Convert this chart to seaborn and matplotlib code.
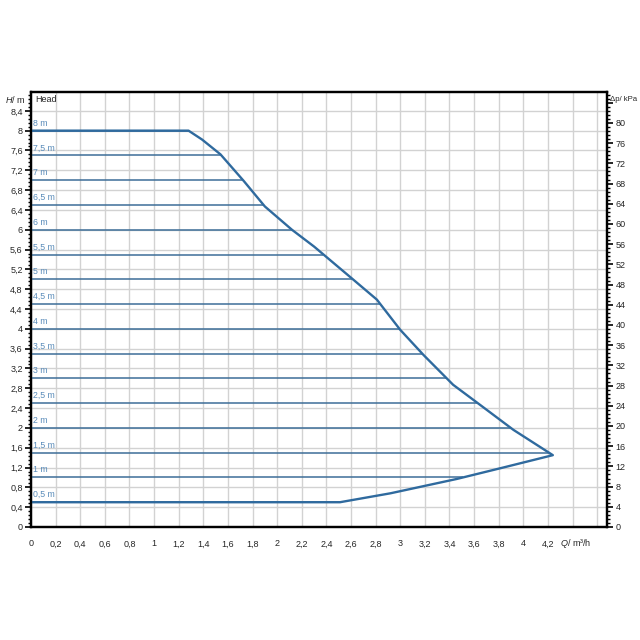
import numpy as np
import pandas as pd
import seaborn as sns
import matplotlib.pyplot as plt
from matplotlib.ticker import MultipleLocator, FuncFormatter

# pump curve (Q in m3/h, H in m), walked around the envelope
q_curve = [0.0, 1.28, 1.39, 1.54, 1.73, 1.90, 2.12, 2.30, 2.62, 2.81, 3.00, 3.19,
           3.43, 3.63, 3.92, 4.24, 3.82, 3.46, 2.92, 2.51, 0.0]
h_curve = [8.0, 8.0, 7.82, 7.52, 6.98, 6.47, 6.0, 5.66, 4.99, 4.59, 3.98, 3.47,
           2.87, 2.5, 1.96, 1.45, 1.19, 0.97, 0.68, 0.5, 0.5]

# constant head settings
levels = [8.0, 7.5, 7.0, 6.5, 6.0, 5.5, 5.0, 4.5, 4.0, 3.5, 3.0, 2.5, 2.0, 1.5, 1.0, 0.5]
level_labels = ["8 m", "7,5 m", "7 m", "6,5 m", "6 m", "5,5 m", "5 m", "4,5 m",
                "4 m", "3,5 m", "3 m", "2,5 m", "2 m", "1,5 m", "1 m", "0,5 m"]

KPA_PER_M = 9.81
curve_col = "#2f6a9e"
line_col = "#3d6e98"
lab_col = "#5a8cba"

sns.set_style("white")
plt.rcParams['font.family'] = ['Liberation Sans', 'DejaVu Sans']
plt.rcParams['mathtext.fontset'] = 'custom'
plt.rcParams['mathtext.it'] = 'Liberation Sans:italic'
plt.rcParams['mathtext.rm'] = 'Liberation Sans'


def comma(v, pos):
    return ("%g" % round(v, 2)).replace(".", ",")


def end_of_level(lev):
    # right-most point where the envelope meets this head
    best = 0.0
    for i in range(len(q_curve) - 1):
        x0, y0, x1, y1 = q_curve[i], h_curve[i], q_curve[i + 1], h_curve[i + 1]
        if min(y0, y1) <= lev <= max(y0, y1):
            if y0 == y1:
                cand = max(x0, x1)
            else:
                cand = x0 + (lev - y0) * (x1 - x0) / (y1 - y0)
            best = max(best, cand)
    return best


fig = plt.figure(figsize=(6.4, 6.4), dpi=100)
ax = fig.add_axes([31 / 640, 113 / 640, 576 / 640, 435 / 640])

ax.set_xlim(0, 4.68)
ax.set_ylim(0, 8.78)

# grid
ax.xaxis.set_major_locator(MultipleLocator(0.2))
ax.xaxis.set_minor_locator(MultipleLocator(0.04))
ax.yaxis.set_major_locator(MultipleLocator(0.4))
ax.yaxis.set_minor_locator(MultipleLocator(0.08))
ax.grid(True, which="major", color="#d2d2d2", linewidth=1.0)
ax.set_axisbelow(True)

# head lines
for lev, lab in zip(levels, level_labels):
    ax.hlines(lev, 0, end_of_level(lev), color=line_col, linewidth=1.1, zorder=3)
    ax.text(0.02, lev + 0.06, lab, color=lab_col, fontsize=6.3, va="bottom", ha="left", zorder=4)

df = pd.DataFrame({"Q": q_curve, "H": h_curve})
sns.lineplot(data=df, x="Q", y="H", sort=False, estimator=None, color=curve_col,
             linewidth=1.7, ax=ax, zorder=5)
ax.set_xlabel("")
ax.set_ylabel("")

ax.xaxis.set_major_formatter(FuncFormatter(lambda v, p: comma(v, p) if v < 4.3 else ""))
ax.yaxis.set_major_formatter(FuncFormatter(lambda v, p: comma(v, p) if v < 8.5 else ""))
ax.tick_params(axis="both", which="major", direction="out", length=4, width=1.2,
               labelsize=6.5, pad=2, color="black")
ax.tick_params(axis="both", which="minor", direction="out", length=2.5, width=1.0, color="black")
ax.tick_params(axis="x", pad=5)
for s in ax.spines.values():
    s.set_color("black")
    s.set_linewidth(1.6)

# right axis in kPa
ax2 = ax.twinx()
ax2.set_ylim(0, 8.78 * KPA_PER_M)
ax2.yaxis.set_major_locator(MultipleLocator(4))
ax2.yaxis.set_minor_locator(MultipleLocator(0.8))
ax2.yaxis.set_major_formatter(FuncFormatter(lambda v, p: "%d" % v if v <= 80 else ""))
ax2.tick_params(axis="y", which="major", direction="out", length=4, width=1.2,
                labelsize=6.5, pad=2, color="black")
ax2.tick_params(axis="y", which="minor", direction="out", length=2.5, width=1.0, color="black")
for s in ax2.spines.values():
    s.set_color("black")
    s.set_linewidth(1.6)

# axis titles
ax.text(-0.045, 0.982, r"$\mathit{H}$/ m", transform=ax.transAxes, fontsize=6.5,
        ha="left", va="center")
ax.text(0.008, 0.982, "Head", transform=ax.transAxes, fontsize=6.5, ha="left", va="center")
ax.text(1.006, 0.982, "Δp/ kPa", transform=ax.transAxes, fontsize=5.6,
        ha="left", va="center")
ax.text(0.945, -0.037, r"$\mathit{Q}$/ m³/h", transform=ax.transAxes, fontsize=6.5,
        ha="center", va="center")

fig.savefig("out.png", dpi=100)
